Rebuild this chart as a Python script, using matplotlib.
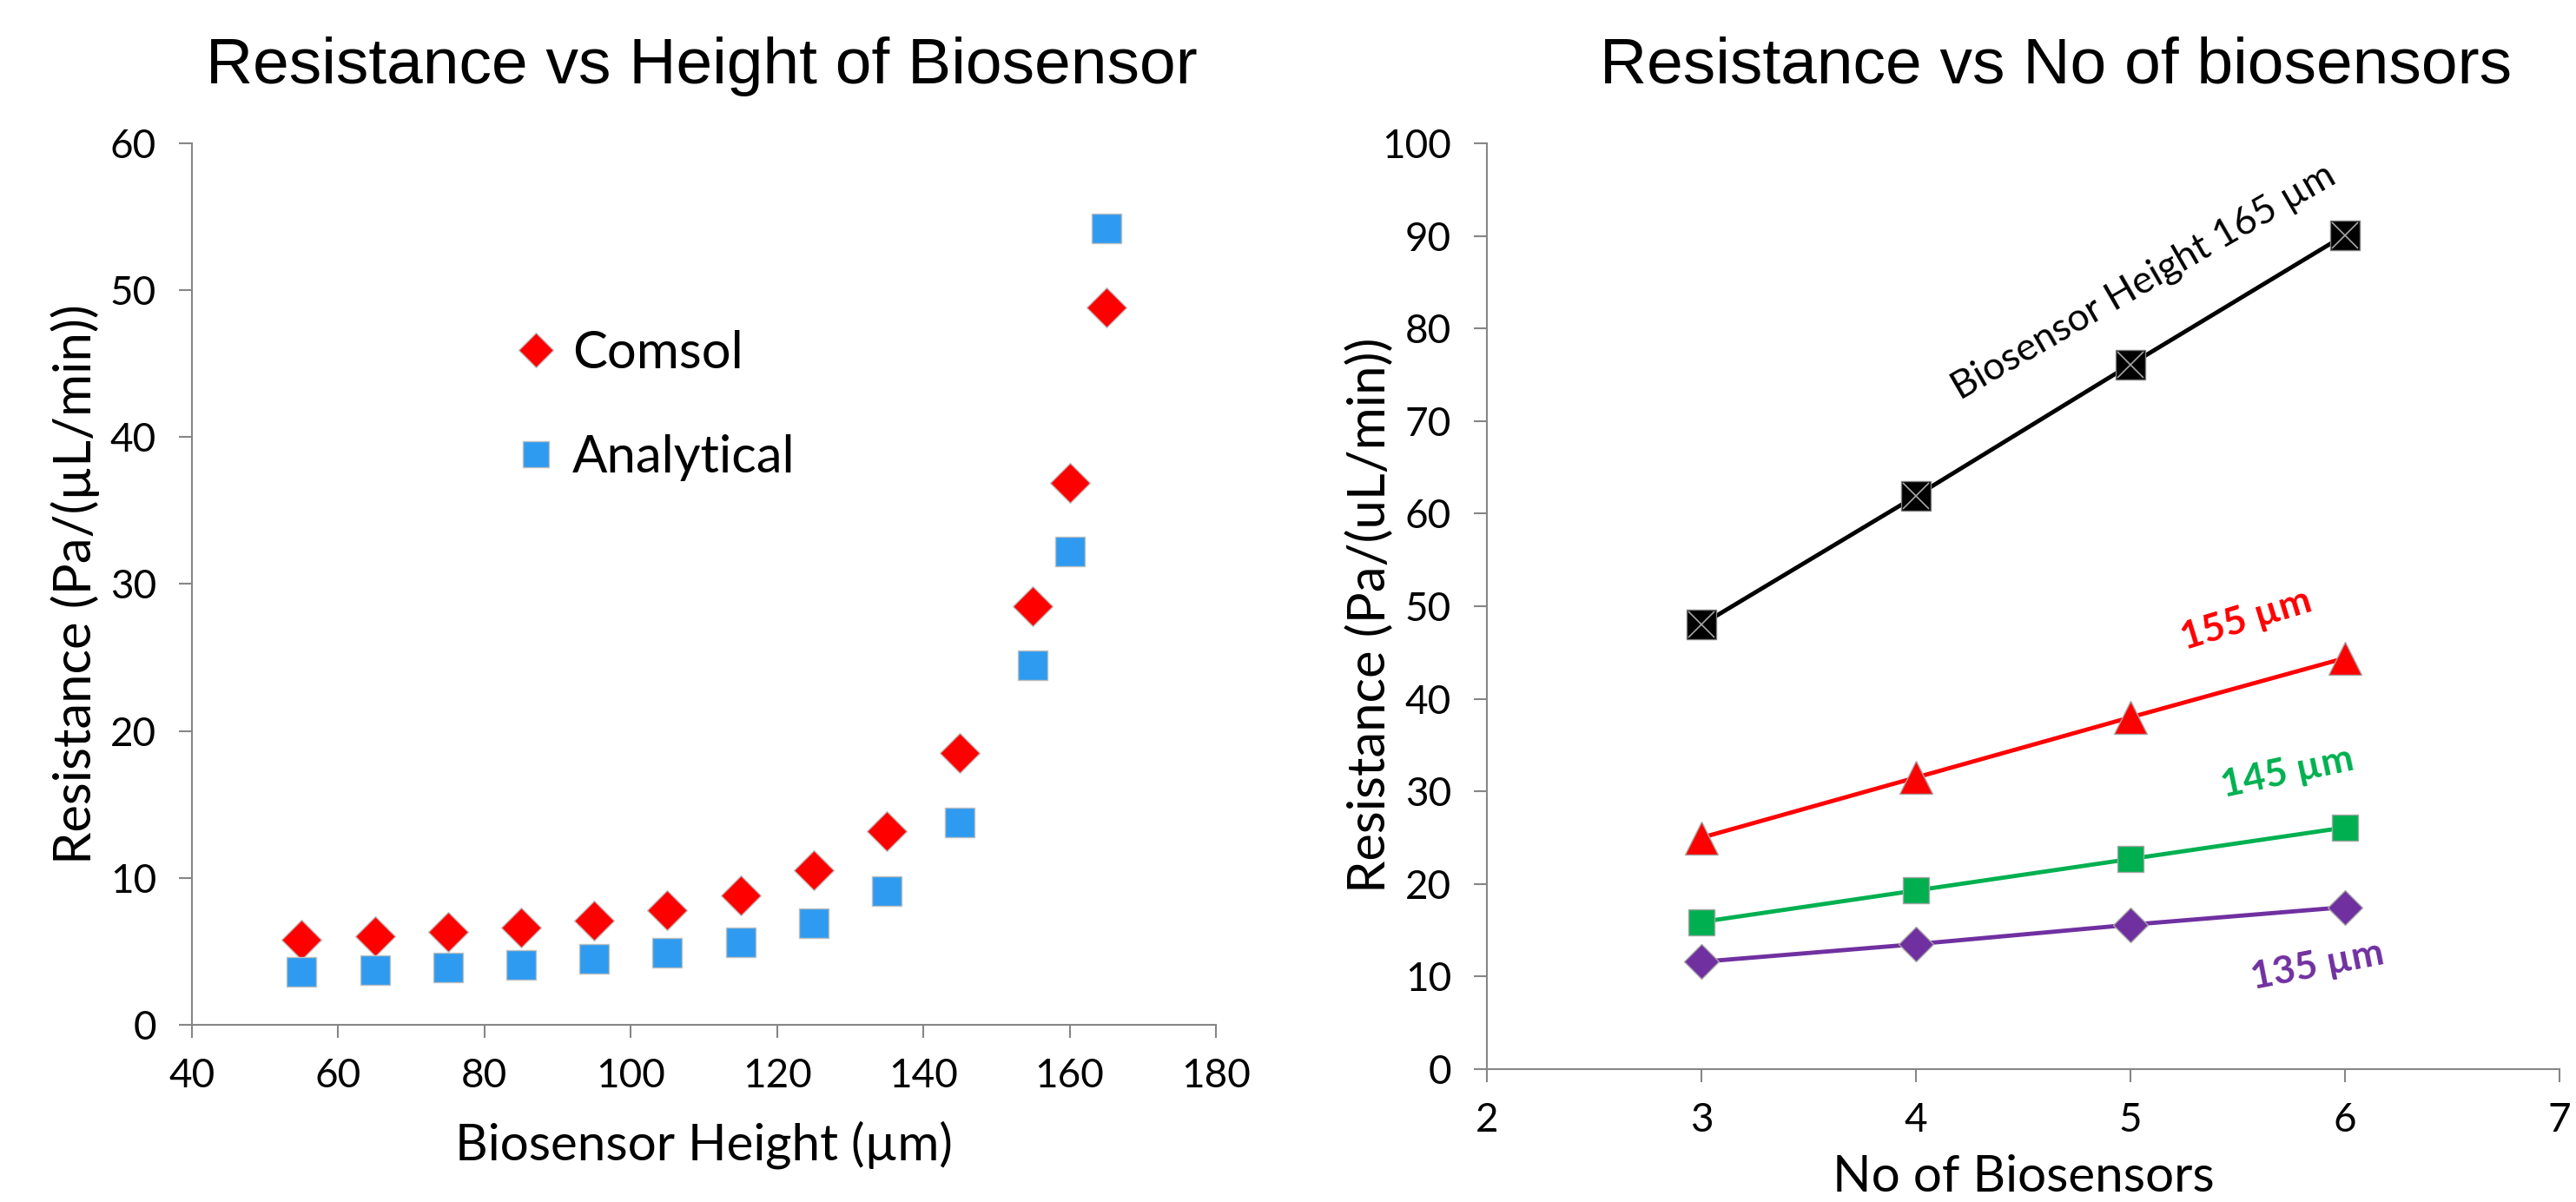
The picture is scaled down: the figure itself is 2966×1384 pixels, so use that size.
import matplotlib
matplotlib.use("Agg")
import matplotlib.pyplot as plt

#Data - left chart
height = [55, 65, 75, 85, 95, 105, 115, 125, 135, 145, 155, 160, 165]
comsol = [5.8, 6.0, 6.3, 6.6, 7.1, 7.8, 8.8, 10.5, 13.2, 18.5, 28.5, 36.9, 48.8]
analytical = [3.6, 3.7, 3.9, 4.1, 4.5, 4.9, 5.6, 6.9, 9.1, 13.8, 24.5, 32.2, 54.2]

#Data - right chart
n_sensors = [3, 4, 5, 6]
h165 = [48.0, 61.9, 76.1, 90.1]
h155 = [25.0, 31.5, 38.0, 44.4]
h145 = [15.9, 19.3, 22.7, 26.1]
h135 = [11.6, 13.5, 15.6, 17.5]

plt.rcParams["font.family"] = ["Lato", "DejaVu Sans"]
axis_grey = "#868686"
edge_grey = "#BFBFBF"

fig = plt.figure(figsize=(29.66, 13.84), dpi=100)

def style_axes(ax):
  for s in ["top", "right"]:
    ax.spines[s].set_visible(False)
  for s in ["left", "bottom"]:
    ax.spines[s].set_color(axis_grey)
    ax.spines[s].set_linewidth(1.5)
  ax.tick_params(direction="out", length=10.5, width=1.5, color=axis_grey,
                 labelsize=33)
  ax.tick_params(axis="y", pad=19)
  ax.tick_params(axis="x", pad=17)

#Left chart
ax1 = fig.add_axes([0.0745, 0.1474, 0.3975, 0.7334])
ax1.plot(height, comsol, linestyle="none", marker="D", markersize=23,
         color="#FF0000", markeredgecolor=edge_grey, markeredgewidth=1,
         label="Comsol")
ax1.plot(height, analytical, linestyle="none", marker="s", markersize=24,
         color="#2E9BF0", markeredgecolor=edge_grey, markeredgewidth=1,
         label="Analytical")
ax1.set_xlim(40, 180)
ax1.set_ylim(0, 60)
ax1.set_xticks(range(40, 181, 20))
ax1.set_yticks(range(0, 61, 10))
style_axes(ax1)
ax1.set_xlabel("Biosensor Height (µm)", fontsize=42, va="center")
ax1.xaxis.set_label_coords(0.5, -0.136)
ax1.set_ylabel("Resistance (Pa/(µL/min))", fontsize=43, va="center")
ax1.yaxis.set_label_coords(-0.1137, 0.5)
ax1.legend(loc="upper left", bbox_to_anchor=(0.27, 0.841), frameon=False,
           fontsize=43, handlelength=0.8, handletextpad=0.3,
           labelspacing=1.1, markerscale=0.9)
fig.text(0.2724, 0.945, "Resistance vs Height of Biosensor",
         family=["Liberation Sans"], fontsize=54, ha="center", va="center")

#Right chart
ax2 = fig.add_axes([0.5772, 0.1105, 0.4164, 0.7703])
ax2.plot(n_sensors, h165, color="black", linewidth=3.5, marker="s",
         markersize=24, markeredgecolor="#7F7F7F", markeredgewidth=1)
ax2.plot(n_sensors, h165, linestyle="none", marker="x", markersize=22,
         markeredgecolor="#A6A6A6", markeredgewidth=1.2)
ax2.plot(n_sensors, h155, color="#FF0000", linewidth=3.5, marker="^",
         markersize=28, markeredgecolor="#A6A6A6", markeredgewidth=1)
ax2.plot(n_sensors, h145, color="#00B050", linewidth=3.5, marker="s",
         markersize=22, markeredgecolor="#A6A6A6", markeredgewidth=1)
ax2.plot(n_sensors, h135, color="#7030A0", linewidth=3.5, marker="D",
         markersize=20, markeredgecolor="#A6A6A6", markeredgewidth=1)
ax2.set_xlim(2, 7)
ax2.set_ylim(0, 100)
ax2.set_xticks(range(2, 8))
ax2.set_yticks(range(0, 101, 10))
style_axes(ax2)
ax2.set_xlabel("No of Biosensors", fontsize=42, va="center")
ax2.xaxis.set_label_coords(0.5, -0.117)
ax2.set_ylabel("Resistance (Pa/(uL/min))", fontsize=43, va="center")
ax2.yaxis.set_label_coords(-0.1093, 0.49)

ax2.text(5.06, 85.0, "Biosensor Height 165 µm", fontsize=32, rotation=30,
         ha="center", va="center", rotation_mode="anchor")
ax2.text(5.54, 48.6, "155 µm", fontsize=32, color="#FF0000", weight="bold",
         rotation=17, ha="center", va="center", rotation_mode="anchor")
ax2.text(5.73, 32.1, "145 µm", fontsize=32, color="#00B050", weight="bold",
         rotation=12, ha="center", va="center", rotation_mode="anchor")
ax2.text(5.87, 11.2, "135 µm", fontsize=32, color="#7030A0", weight="bold",
         rotation=11, ha="center", va="center", rotation_mode="anchor")
fig.text(0.798, 0.945, "Resistance vs No of biosensors",
         family=["Liberation Sans"], fontsize=54, ha="center", va="center")

plt.savefig("out.png", dpi=100)
